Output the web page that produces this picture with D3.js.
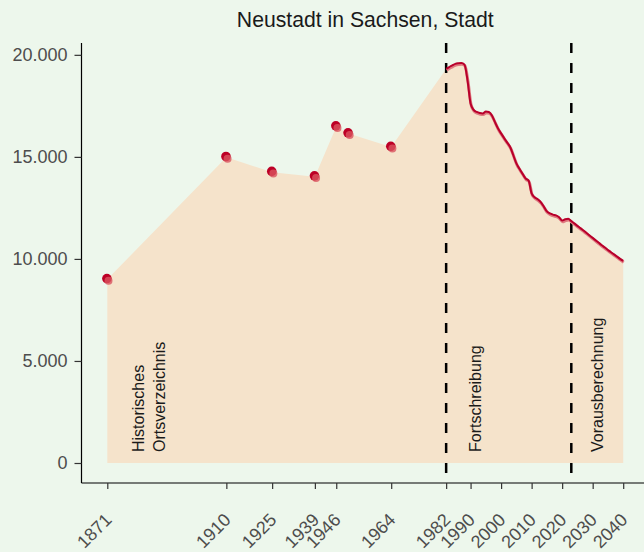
<!DOCTYPE html>
<html>
<head>
<meta charset="utf-8">
<script src="https://cdn.jsdelivr.net/npm/d3@7"></script>
<style>
  body { margin: 0; background: #edf7ec; }
  svg { display: block; font-family: "Liberation Sans", Arial, sans-serif; }
</style>
</head>
<body>
<div id="chart"></div>
<script>
// historic census counts (dots)
var histYears = [1871, 1910, 1925, 1939, 1946, 1950, 1964];
var histValues = [9000, 14980, 14250, 14030, 16480, 16140, 15480];

// yearly series 1982 - 2022 (Fortschreibung)
var fortYears = [1982, 1983, 1984, 1985, 1986, 1987, 1988, 1989, 1990, 1991,
  1992, 1993, 1994, 1995, 1996, 1997, 1998, 1999, 2000, 2001,
  2002, 2003, 2004, 2005, 2006, 2007, 2008, 2009, 2010, 2011,
  2012, 2013, 2014, 2015, 2016, 2017, 2018, 2019, 2020, 2021, 2022];
var fortValues = [19310, 19400, 19480, 19560, 19590, 19600, 19520, 18750, 17620, 17300,
  17200, 17150, 17130, 17220, 17200, 17030, 16700, 16390, 16150, 15920,
  15700, 15470, 15080, 14680, 14420, 14180, 13950, 13840, 13210, 13020,
  12920, 12780, 12560, 12330, 12230, 12170, 12130, 12040, 11880, 11940, 11970];

// projection 2023 - 2040 (Vorausberechnung)
var projYears = [2023, 2024, 2025, 2026, 2027, 2028, 2029, 2030, 2031,
  2032, 2033, 2034, 2035, 2036, 2037, 2038, 2039, 2040];
var projValues = [11850, 11740, 11620, 11510, 11390, 11270, 11150, 11030, 10910,
  10790, 10670, 10560, 10440, 10330, 10220, 10110, 10000, 9900];

var xTicks = [1871, 1910, 1925, 1939, 1946, 1964, 1982, 1990, 2000, 2010, 2020, 2030, 2040];
var yTicks = [0, 5000, 10000, 15000, 20000];
var breakYears = [1982, 2023];
var sectionLabels = [
  { year: 1884.6, lines: ['Historisches', 'Ortsverzeichnis'] },
  { year: 1991.5, lines: ['Fortschreibung'] },
  { year: 2031.7, lines: ['Vorausberechnung'] }
];
var title = 'Neustadt in Sachsen, Stadt';

var width = 644, height = 552;
var panel = { left: 81.5, right: 649, top: 43, bottom: 483 };

var hist = histYears.map(function (d, i) { return { year: d, value: histValues[i] }; });
var fort = fortYears.map(function (d, i) { return { year: d, value: fortValues[i] }; });
var proj = projYears.map(function (d, i) { return { year: d, value: projValues[i] }; });
var series = fort.concat(proj);
var all = hist.concat(series);

var de = d3.formatLocale({ decimal: ',', thousands: '.', grouping: [3], currency: ['', ' €'] });
var fmt = de.format(',d');

var xMin = d3.min(all, function (d) { return d.year; }),
  xMax = d3.max(all, function (d) { return d.year; }),
  xPad = (xMax - xMin) * 0.05;
var yMax = d3.max(all, function (d) { return d.value; }),
  yPad = yMax * 0.05;

var x = d3.scaleLinear().domain([xMin - xPad, xMax + xPad]).range([panel.left, panel.right]);
var y = d3.scaleLinear().domain([-yPad, yMax + yPad]).range([panel.bottom, panel.top]);

var svg = d3.select('#chart').append('svg')
  .attr('width', width)
  .attr('height', height);

svg.append('rect').attr('width', width).attr('height', height).attr('fill', '#edf7ec');

// area
var area = d3.area()
  .x(function (d) { return x(d.year); })
  .y0(y(0))
  .y1(function (d) { return y(d.value); });

svg.append('path')
  .datum(all)
  .attr('d', area)
  .attr('fill', '#f5e3cb');

// section labels
sectionLabels.forEach(function (s) {
  var n = s.lines.length;
  s.lines.forEach(function (t, i) {
    var cx = x(s.year) + (i - (n - 1) / 2) * 21;
    svg.append('text')
      .attr('transform', 'translate(' + cx + ',' + 452 + ') rotate(-90)')
      .attr('dy', '0.35em')
      .attr('font-size', 16)
      .attr('fill', '#1a1a1a')
      .text(t);
  });
});

// dashed break lines
svg.selectAll('.brk')
  .data(breakYears)
  .enter()
  .append('line')
  .attr('class', 'brk')
  .attr('x1', function (d) { return x(d); })
  .attr('x2', function (d) { return x(d); })
  .attr('y1', panel.top)
  .attr('y2', panel.bottom)
  .attr('stroke', '#000')
  .attr('stroke-width', 2.5)
  .attr('stroke-dasharray', '10,10');

// line: light shadow then dark line
var line = d3.line()
  .curve(d3.curveMonotoneX)
  .x(function (d) { return x(d.year); })
  .y(function (d) { return y(d.value); });

svg.append('path')
  .datum(series)
  .attr('d', line)
  .attr('transform', 'translate(0.5,1.2)')
  .attr('fill', 'none')
  .attr('stroke', '#df7a80')
  .attr('stroke-width', 3);

svg.append('path')
  .datum(series)
  .attr('d', line)
  .attr('fill', 'none')
  .attr('stroke', '#b8002b')
  .attr('stroke-width', 2);

// dots
var dots = svg.selectAll('.dot')
  .data(hist)
  .enter()
  .append('g')
  .attr('class', 'dot')
  .attr('transform', function (d) { return 'translate(' + x(d.year) + ',' + y(d.value) + ')'; });

dots.append('circle').attr('r', 4.8).attr('cx', -0.4).attr('cy', -0.8).attr('fill', '#bd0026');
dots.append('circle').attr('r', 4).attr('cx', 1.2).attr('cy', 1.4).attr('fill', '#d9545f').attr('fill-opacity', 0.8);

// axes
var yAxis = svg.append('g')
  .attr('transform', 'translate(' + panel.left + ',0)')
  .call(d3.axisLeft(y).tickValues(yTicks).tickFormat(fmt).tickSize(7).tickPadding(7));
yAxis.select('.domain').attr('d', 'M0,' + panel.top + 'V' + panel.bottom).attr('stroke', '#000').attr('stroke-width', 1.2);
yAxis.selectAll('.tick line').attr('stroke', '#333').attr('stroke-width', 1.2);
yAxis.selectAll('.tick text').attr('font-size', 18).attr('fill', '#4d4d4d').attr('font-family', null);

var xAxis = svg.append('g')
  .attr('transform', 'translate(0,' + panel.bottom + ')')
  .call(d3.axisBottom(x).tickValues(xTicks).tickFormat(d3.format('d')).tickSize(6));
xAxis.select('.domain').attr('d', 'M' + panel.left + ',0H' + panel.right).attr('stroke', '#000').attr('stroke-width', 1.2);
xAxis.selectAll('.tick line').attr('stroke', '#333').attr('stroke-width', 1.2);
xAxis.selectAll('.tick text')
  .attr('y', null).attr('dy', null)
  .attr('transform', 'translate(5,38) rotate(-45)')
  .attr('text-anchor', 'end')
  .attr('font-size', 18)
  .attr('fill', '#4d4d4d')
  .attr('font-family', null);

// title
svg.append('text')
  .attr('x', (panel.left + panel.right) / 2)
  .attr('y', 27)
  .attr('text-anchor', 'middle')
  .attr('font-size', 21.2)
  .attr('fill', '#1a1a1a')
  .text(title);
</script>
</body>
</html>
